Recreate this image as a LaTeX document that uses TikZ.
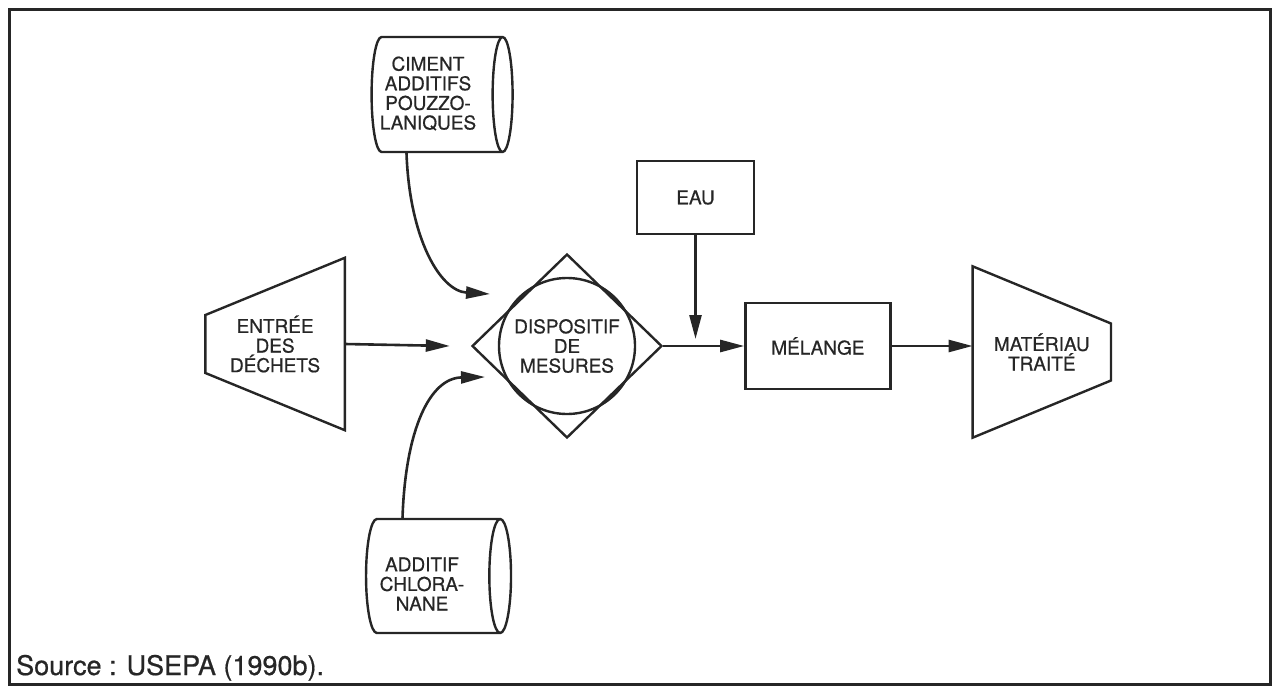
\documentclass[tikz,border=0pt]{standalone}
\usepackage{fontspec}
\setmainfont{TeX Gyre Heros}[UprightFeatures={FakeBold=0.6}]
\usetikzlibrary{positioning,shapes.geometric,arrows.meta,calc}
\definecolor{encre}{HTML}{262626}

\begin{document}
\begin{tikzpicture}[x=1pt,y=-1pt,color=encre,
  font=\fontsize{19pt}{19.6pt}\selectfont,
  bloc/.style={draw=encre,line width=2.4pt,inner sep=0pt,align=center},
  citerne/.style={draw=encre,line width=2.4pt,cylinder,shape border rotate=0,aspect=0.35,inner sep=0pt},
  entonnoir/.style={inner sep=0pt,align=center},
  fleche/.style={-{Triangle[length=24pt,width=12pt]},encre,line width=2.6pt}]
  \useasboundingbox (0,0) rectangle (1273,687);
  \draw[line width=3pt] (9,10) rectangle (1270,684);
  \node[bloc,diamond,minimum width=190pt,minimum height=184pt] (losange) at (567,346) {};
  \node[bloc,circle,minimum size=136pt] (mesures) at (losange.center) {DISPOSITIF\\DE\\MESURES};
  \node[entonnoir,minimum width=139pt,minimum height=172pt,left=126pt of losange,yshift=2pt] (entree) {ENTRÉE\\DES\\DÉCHETS};
  % cylindres : minimum height = longueur de l'axe ; le rule donne le rayon du couvercle
  \node[citerne,minimum height=141pt,minimum width=115pt,label={[xshift=-8.5pt,yshift=1pt,align=center]center:{CIMENT\\ADDITIFS\\POUZZO-\\LANIQUES}}] (ciment) at (436.5,94.5) {\rule{0pt}{57pt}};
  \node[citerne,minimum height=145pt,minimum width=114pt,label={[xshift=-10.5pt,yshift=-8pt,align=center]center:{ADDITIF\\CHLORA-\\NANE}}] (chlore) at (432.5,576) {\rule{0pt}{62pt}};
  \node[bloc,minimum width=117pt,minimum height=73pt] (eau) at (695.5,197.5) {EAU};
  \node[bloc,minimum width=145pt,minimum height=86pt,right=81pt of losange] (melange) {MÉLANGE};
  \node[entonnoir,minimum width=138pt,minimum height=171pt,right=81pt of melange,yshift=-6pt] (materiau) {MATÉRIAU\\TRAITÉ};
  % les deux entonnoirs
  \draw[line width=2.4pt] (entree.north east) -- (entree.south east) -- ([yshift=-29pt]entree.west) -- ([yshift=29pt]entree.west) -- cycle;
  \draw[line width=2.4pt] (materiau.north west) -- ([yshift=28.5pt]materiau.east) -- ([yshift=-28.5pt]materiau.east) -- (materiau.south west) -- cycle;
  \coordinate (haut) at ($(losange.center)+(-77,-52)$);
  \coordinate (bas) at ($(losange.center)+(-82,31)$);
  \draw[fleche] (entree.east) -- ([xshift=-21pt]losange.west);
  \draw[fleche] ([xshift=-30pt]ciment.south) .. controls +(3,85) and +(-50,-3) .. (haut);
  \draw[fleche] ([xshift=-30pt]chlore.north) .. controls +(3,-89) and +(-55,1) .. (bas);
  \draw[fleche] (losange.east) -- (melange.west);
  \draw[fleche] (eau.south) -- ([yshift=7pt]eau.south |- melange.west);
  \draw[fleche] (melange.east) -- (melange.east -| materiau.west);
  \node[anchor=base west,inner sep=0pt,font=\fontsize{27pt}{30pt}\selectfont] (source) at (16,675) {Source : USEPA (1990b).};
\end{tikzpicture}
\end{document}
